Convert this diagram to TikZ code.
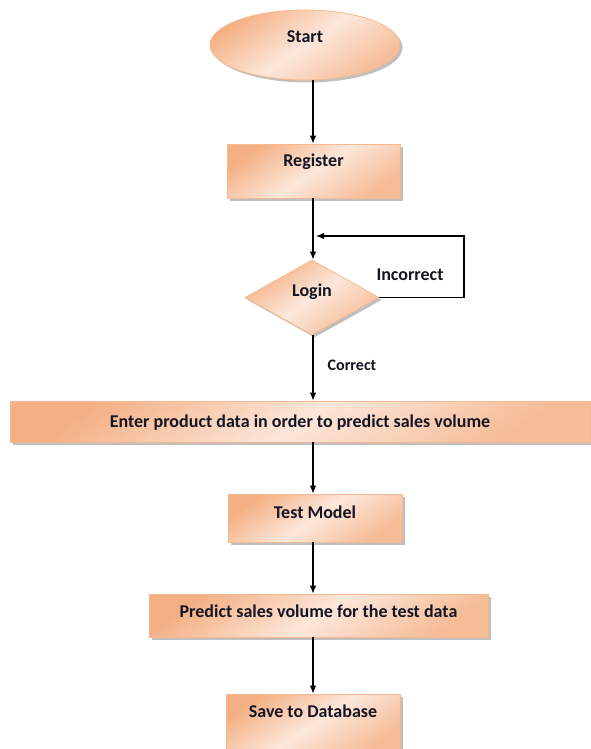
\documentclass[tikz,border=0pt]{standalone}
\usepackage{fontspec}
\setmainfont{Carlito}
\usetikzlibrary{shapes.geometric,shadows,arrows.meta}
\definecolor{peachdk}{RGB}{244,176,132}
\definecolor{peachlt}{RGB}{252,231,218}
\definecolor{peachln}{RGB}{245,185,145}
\definecolor{inkdk}{RGB}{20,20,35}
\begin{document}
\begin{tikzpicture}[x=1pt, y=-1pt,
  every node/.style={font=\fontsize{18}{21}\selectfont\bfseries, text=inkdk},
  peach/.style={draw=peachln, line width=0.8pt, inner sep=0pt,
    top color=peachdk, bottom color=peachdk!85, middle color=peachlt, shading angle=35,
    drop shadow={shadow xshift=2.5pt, shadow yshift=-2.5pt, fill=black!50, opacity=0.5}},
  procbox/.style={peach, rectangle},
  startell/.style={peach, ellipse},
  decision/.style={peach, diamond},
  txt/.style={text height=12pt, text depth=#1},
  arr/.style={line width=1.1pt, -{Latex[length=8pt,width=6.5pt]}}]
  \useasboundingbox (0,0) rectangle (590,749);
  \coordinate (spine) at (313,0);
  \node[startell, minimum width=190pt, minimum height=70pt, txt=16pt] (start) at (305,45) {Start};
  \node[procbox, minimum width=173pt, minimum height=54pt, txt=22pt] (reg) at (313.5,171) {Register};
  \node[decision, minimum width=134pt, minimum height=75pt, txt=14pt] (login) at (312,297.5) {Login};
  \node[procbox, minimum width=580pt, minimum height=41pt, txt=1pt] (enter) at (300,421.5)
    {Enter product data in order to predict sales volume};
  \node[procbox, minimum width=174pt, minimum height=48pt, txt=12pt] (test) at (315,518) {Test Model};
  \node[procbox, minimum width=339pt, minimum height=43pt, txt=9pt] (pred) at (318.5,615.5)
    {Predict sales volume for the test data};
  \node[procbox, minimum width=174pt, minimum height=60pt, txt=26pt] (save) at (313,724) {Save to Database};
  \draw[arr] (start.south -| spine) -- (reg.north -| spine);
  \draw[arr] (reg.south -| spine) -- (login.north -| spine);
  \draw[arr] (login.south -| spine) -- (enter.north -| spine);
  \draw[arr] (enter.south -| spine) -- (test.north -| spine);
  \draw[arr] (test.south -| spine) -- (pred.north -| spine);
  \draw[arr] (pred.south -| spine) -- (save.north -| spine);
  % loop back on a wrong login
  \coordinate (loopr) at (464,236);
  \coordinate (loopin) at (316,236);
  \draw[arr] (login.east) -| (loopr) -- (loopin);
  \node[anchor=base] (incor) at (410,280) {Incorrect};
  \node[anchor=base, font=\fontsize{16}{19}\selectfont\bfseries] (corr) at (352,370) {Correct};
\end{tikzpicture}
\end{document}
